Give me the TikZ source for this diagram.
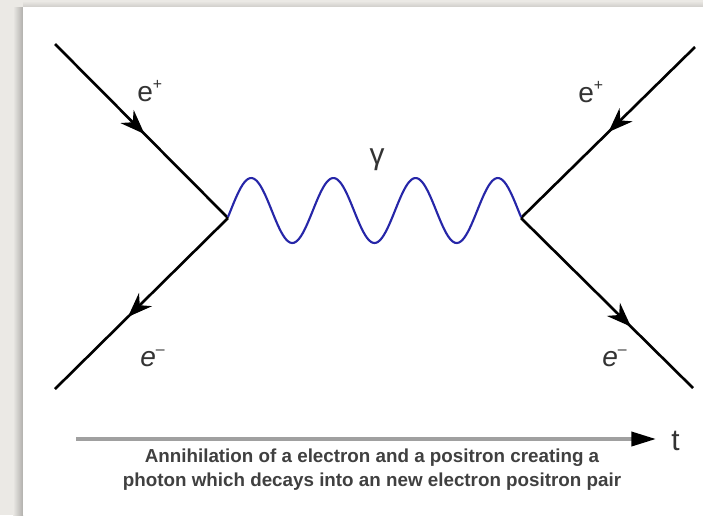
\documentclass[tikz,border=0pt]{standalone}
\usepackage{fontspec}
\setmainfont{Liberation Sans}
\usetikzlibrary{arrows.meta,decorations.markings}
\definecolor{paper}{RGB}{235,233,229}
\definecolor{photonblue}{RGB}{38,38,168}
\definecolor{axisgray}{RGB}{160,160,160}
\newcommand{\chg}[1]{\raisebox{0.42em}{\fontsize{9}{9}\selectfont #1}}

\begin{document}
\begin{tikzpicture}[x=0.02cm,y=-0.02cm,
    fermion/.style={line width=1.5pt,postaction={decorate},
        decoration={markings,mark=at position #1 with {\arrow{Stealth[length=14pt,width=10.5pt]}}}},
    photon/.style={photonblue,line width=1.2pt},
    lbl/.style={inner sep=0pt,text=black!80,font=\fontsize{16}{19}\selectfont},
    captext/.style={inner sep=0pt,align=center,text=black!75,font=\bfseries\fontsize{10.7}{13.6}\selectfont}]
    \useasboundingbox (0,0) rectangle (703,515);
    \fill[paper] (0,0) rectangle (703,515);
    \shade[left color=paper,right color=paper!75!black] (13,7) rectangle (23,515);
    \shade[top color=paper,bottom color=paper!88!black] (23,1) rectangle (703,7);
    \fill[white] (23,7) rectangle (703,515);
    \coordinate (in1) at (55,44);
    \coordinate (out1) at (55,389);
    \coordinate (vl) at (228,218);
    \coordinate (vr) at (521,218);
    \coordinate (in2) at (695,47);
    \coordinate (out2) at (693,388);
    \draw[fermion=0.52] (in1) -- (vl);
    \draw[fermion=0.58] (vl) -- (out1);
    \draw[fermion=0.5] (in2) -- (vr);
    \draw[fermion=0.64] (vr) -- (out2);
    \draw[photon] plot[domain=-11.5:1271.5,samples=161,smooth,variable=\t] ({228+0.22837*(\t+11.5)},{210.5-32.5*sin(\t)});
    \node[lbl,anchor=base west] (ep1) at (137,101) {e\chg{+}};
    \node[lbl,anchor=base west] (em1) at (140,366) {\textit{e}\chg{\textendash}};
    \node[lbl,anchor=base west] (ep2) at (578,102) {e\chg{+}};
    \node[lbl,anchor=base west] (em2) at (602,366) {\textit{e}\chg{\textendash}};
    \node[lbl,font=\fontsize{17}{20}\selectfont] (gam) at (377,160) {γ};
    \coordinate (t0) at (76,439);
    \coordinate (t1) at (656,439);
    \draw[axisgray,line width=2pt,-{Triangle[length=14pt,width=8pt,black]}] (t0) -- (t1);
    \node[lbl,anchor=base west,font=\fontsize{17}{20}\selectfont] (tt) at (671,450) {t};
    \node[captext] (capt) at (372,470) {Annihilation of a electron and a positron creating a\\photon which decays into an new electron positron pair};
\end{tikzpicture}
\end{document}
